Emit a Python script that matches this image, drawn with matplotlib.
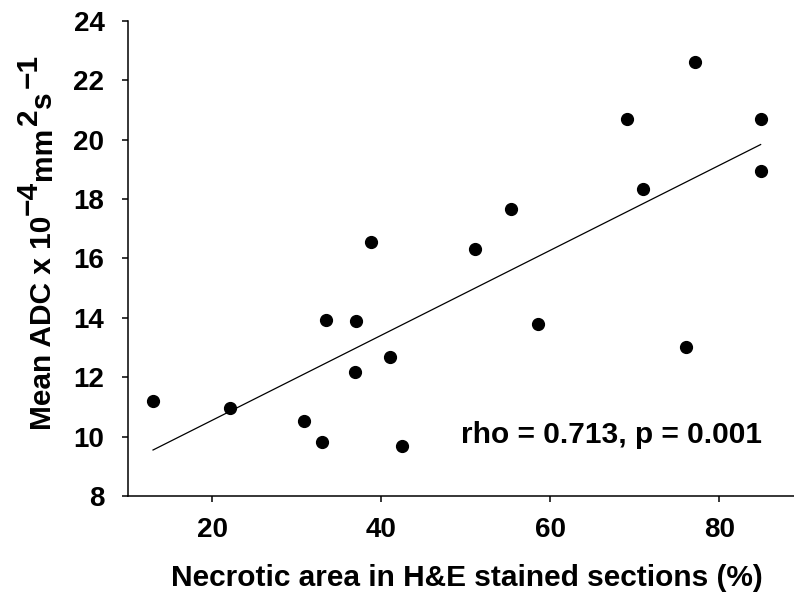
import numpy as np
import matplotlib
matplotlib.use("Agg")
import matplotlib.pyplot as plt

plt.rcParams['font.family'] = ['Liberation Sans', 'DejaVu Sans']
plt.rcParams['font.weight'] = 'bold'

# Data
necrotic_area = [13.0, 22.1, 30.9, 33.0, 33.5, 37.0, 36.9, 38.8, 41.0, 42.5,
                 51.1, 55.4, 58.6, 69.1, 71.0, 76.1, 77.1, 84.9, 84.9]
mean_adc = [11.2, 10.95, 10.54, 9.83, 13.93, 13.9, 12.17, 16.56, 12.67, 9.69,
            16.32, 17.67, 13.78, 20.69, 18.33, 13.03, 22.61, 20.69, 18.95]
fit_slope = 0.143
fit_intercept = 7.69
annotation = "rho = 0.713, p = 0.001"
x_label = "Necrotic area in H&E stained sections (%)"
# y label pieces: (text, is_superscript)
y_label_parts = [("Mean ADC x 10", False), ("\u22124", True), ("mm", False),
                 ("2", True), ("s", False), ("\u22121", True)]
x_ticks = [20, 40, 60, 80]
y_ticks = [8, 10, 12, 14, 16, 18, 20, 22, 24]

W, H = 794, 603
fig = plt.figure(figsize=(W / 100, H / 100), dpi=100)
ax = fig.add_axes([0.1608, 0.1774, 1.0 - 0.1608, 0.9657 - 0.1774])

ax.plot(necrotic_area, mean_adc, 'o', color='black', markersize=8.5, zorder=3)
xl = np.array([min(necrotic_area), max(necrotic_area)])
ax.plot(xl, fit_intercept + fit_slope * xl, color='black', linewidth=0.9)

ax.set_xlim(10, 88.85)
ax.set_ylim(8, 24)
ax.set_xticks(x_ticks)
ax.set_yticks(y_ticks)
ax.spines['top'].set_visible(False)
ax.spines['right'].set_visible(False)
for s in ('left', 'bottom'):
    ax.spines[s].set_linewidth(1.1)
ax.tick_params(direction='out', length=4.2, width=1.1, labelsize=20)
ax.tick_params(axis='x', pad=11)
ax.tick_params(axis='y', pad=12.5)
for lab in ax.get_xticklabels() + ax.get_yticklabels():
    lab.set_fontweight('bold')

ax.text(85.07, 10.05, annotation, ha='right', va='center', fontsize=21.5,
        fontweight='bold')

ax.set_xlabel(x_label, fontsize=21.5, fontweight='bold', va='center')
ax.xaxis.set_label_coords(0.509, -0.1725)

# y label built from rotated pieces with full-size raised superscripts
renderer = fig.canvas.get_renderer()
base_x = 51.0          # baseline x (pixels from left)
y_up = H - 430.0       # start (pixels from bottom)
raise_px = 14.0
gaps = [1.0, 1.0, 1.0, 1.0, 3.0, 0.0]
for (txt, sup), gap in zip(y_label_parts, gaps):
    x = base_x - (raise_px if sup else 0.0)
    t = fig.text(x / W, y_up / H, txt, rotation=90, rotation_mode='anchor',
                 ha='left', va='baseline', fontsize=21.5,
                 fontweight='bold')
    bb = t.get_window_extent(renderer)
    y_up += bb.height + gap

fig.savefig("out.png", dpi=100)
